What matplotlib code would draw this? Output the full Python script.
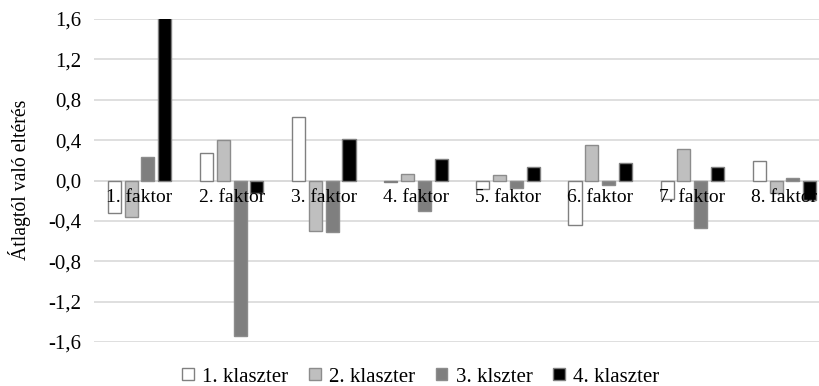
import matplotlib
matplotlib.use("Agg")
import matplotlib.pyplot as plt
import numpy as np

categories = ["1. faktor", "2. faktor", "3. faktor", "4. faktor",
              "5. faktor", "6. faktor", "7. faktor", "8. faktor"]
series_names = ["1. klaszter", "2. klaszter", "3. klszter", "4. klaszter"]
klaszter1 = [-0.32, 0.27, 0.63, -0.01, -0.08, -0.44, -0.18, 0.19]
klaszter2 = [-0.36, 0.40, -0.50, 0.06, 0.05, 0.35, 0.31, -0.12]
klaszter3 = [0.23, -1.54, -0.51, -0.30, -0.07, -0.04, -0.47, 0.02]
klaszter4 = [1.62, -0.12, 0.41, 0.21, 0.13, 0.17, 0.13, -0.19]
yticks = [-1.6, -1.2, -0.8, -0.4, 0.0, 0.4, 0.8, 1.2, 1.6]

series = [klaszter1, klaszter2, klaszter3, klaszter4]
faces = ["#ffffff", "#bfbfbf", "#7f7f7f", "#000000"]
edges = ["#808080", "#8c8c8c", "#8c8c8c", "#7f7f7f"]

plt.rcParams['font.family'] = ['Liberation Serif', 'DejaVu Serif']

fig = plt.figure(figsize=(8.19, 3.86), dpi=100)
ax = fig.add_axes([93.5/819, 1 - 342/386, 737/819, 323/386])

x = np.arange(len(categories))
step = 0.182
width = 0.142
for i, (vals, fc, ec, nm) in enumerate(zip(series, faces, edges, series_names)):
    ax.bar(x + (i - 1.5) * step, vals, width=width, color=fc, edgecolor=ec,
           linewidth=1.0, label=nm, zorder=3)

ax.set_xlim(-0.5, len(categories) - 0.5)
ax.set_ylim(-1.6, 1.6)
ax.set_yticks(yticks)
ax.set_yticklabels([f"{v:.1f}".replace(".", ",") for v in yticks], fontsize=15)
ax.tick_params(axis='y', length=0, pad=9)
ax.set_xticks([])
ax.grid(axis='y', color='#d9d9d9', linewidth=1.2, zorder=0)
for s in ax.spines.values():
    s.set_visible(False)
ax.axhline(0, color='#d9d9d9', linewidth=1.2, zorder=1)

for xi, c in zip(x, categories):
    ax.annotate(c, (xi, 0), xytext=(0, -6), textcoords='offset points',
                ha='center', va='top', fontsize=14, zorder=5)

fig.text(20/819, 1 - 180/386, "Átlagtól való eltérés", rotation=90,
         ha='center', va='center', fontsize=14.2)

leg = fig.legend(loc='center', bbox_to_anchor=(421/819, 1 - 377/386), ncol=4,
                 frameon=False, fontsize=15, handlelength=0.55, handleheight=0.55,
                 handletextpad=0.4, columnspacing=1.0, borderpad=0.1)

fig.savefig("out.png", dpi=100)
